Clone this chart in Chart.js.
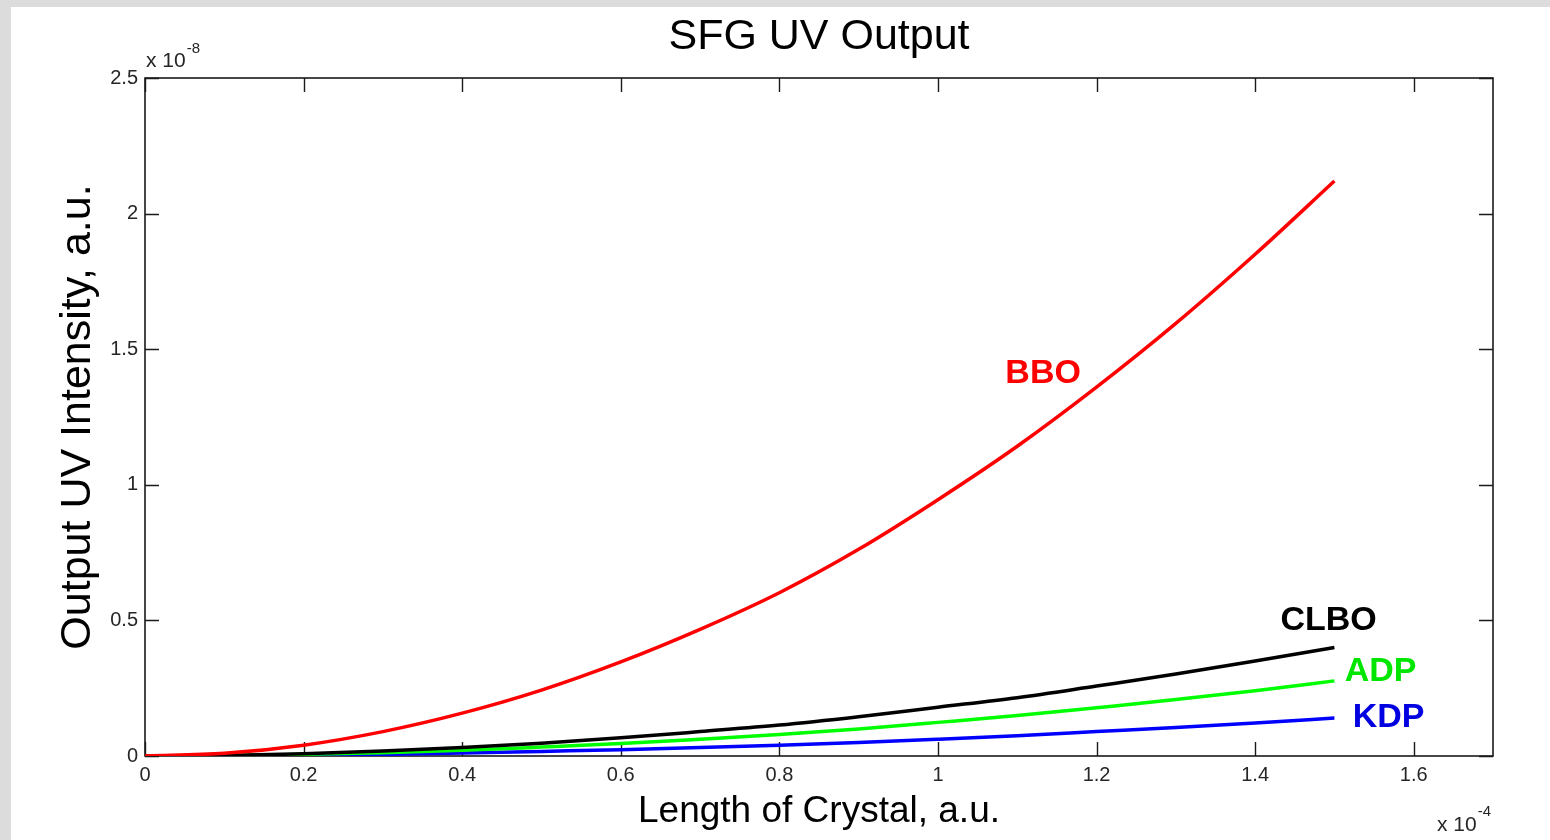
<!DOCTYPE html>
<html><head><meta charset="utf-8">
<script src="https://cdn.jsdelivr.net/npm/chart.js@4.4.1/dist/chart.umd.min.js"></script>
<style>html,body{margin:0;padding:0;background:#fff}#wrap{width:1550px;height:840px;position:relative}</style>
</head><body><div id="wrap"><canvas id="c"></canvas></div>
<script>
// crystal length (x 1e-4) and UV output (x 1e-8)
const lengthValues = [0, 0.1, 0.2, 0.3, 0.4, 0.5, 0.6, 0.7, 0.8, 0.9, 1.0, 1.1, 1.2, 1.3, 1.4, 1.5];
const bboValues  = [0, 0.010, 0.040, 0.090, 0.158, 0.243, 0.347, 0.467, 0.602, 0.762, 0.945, 1.142, 1.360, 1.595, 1.850, 2.120];
const clboValues = [0, 0.002, 0.008, 0.018, 0.031, 0.047, 0.067, 0.090, 0.114, 0.145, 0.180, 0.215, 0.258, 0.302, 0.350, 0.400];
const adpValues  = [0, 0.001, 0.006, 0.012, 0.021, 0.033, 0.046, 0.062, 0.079, 0.100, 0.124, 0.149, 0.178, 0.208, 0.241, 0.277];
const kdpValues  = [0, 0.001, 0.003, 0.006, 0.011, 0.017, 0.023, 0.031, 0.040, 0.050, 0.062, 0.075, 0.090, 0.105, 0.122, 0.140];
const xTickValues = [0, 0.2, 0.4, 0.6, 0.8, 1, 1.2, 1.4, 1.6];
const yTickValues = [0, 0.5, 1, 1.5, 2, 2.5];
const seriesNames = ['BBO', 'CLBO', 'ADP', 'KDP'];
// annotation anchors (data units) for the series names
const nameAtX = [1.085, 1.432, 1.513, 1.523];
const nameAtY = [1.41, 0.50, 0.31, 0.14];

const lineColors = ['#ff0000', '#000000', '#00ff00', '#0000ff'];
const nameColors = ['#ff0000', '#000000', '#00e600', '#0000e0'];
const seriesValues = [bboValues, clboValues, adpValues, kdpValues];

const datasets = seriesNames.map((n, i) => ({
  label: n,
  data: lengthValues.map((x, j) => ({x: x, y: seriesValues[i][j]})),
  borderColor: lineColors[i],
  backgroundColor: lineColors[i],
  borderWidth: 3.5,
  pointRadius: 0,
  cubicInterpolationMode: 'monotone',
  fill: false
}));

const FONT = 'Arial, "Liberation Sans", sans-serif';

const framePlugin = {
  id: 'frame',
  beforeDraw(chart) {
    const ctx = chart.ctx;
    ctx.save();
    ctx.fillStyle = '#dcdcdc';
    ctx.fillRect(0, 0, chart.width, chart.height);
    ctx.fillStyle = '#ffffff';
    ctx.fillRect(11, 7, chart.width - 11, chart.height - 7);
    ctx.restore();
  },
  beforeDatasetsDraw(chart) {
    const ctx = chart.ctx, a = chart.chartArea;
    const xs = chart.scales.x, ys = chart.scales.y;
    ctx.save();
    ctx.strokeStyle = '#1a1a1a';
    ctx.lineWidth = 1.6;
    ctx.strokeRect(a.left, a.top, a.right - a.left, a.bottom - a.top);
    ctx.lineWidth = 1.4;
    ctx.beginPath();
    const tl = 14;
    xs.ticks.forEach(t => {
      const px = Math.round(xs.getPixelForValue(t.value)) + 0.5;
      ctx.moveTo(px, a.bottom); ctx.lineTo(px, a.bottom - tl);
      ctx.moveTo(px, a.top); ctx.lineTo(px, a.top + tl);
    });
    ys.ticks.forEach(t => {
      const py = Math.round(ys.getPixelForValue(t.value)) + 0.5;
      ctx.moveTo(a.left, py); ctx.lineTo(a.left + tl, py);
      ctx.moveTo(a.right, py); ctx.lineTo(a.right - tl, py);
    });
    ctx.stroke();
    ctx.restore();
  },
  afterDatasetsDraw(chart) {
    const ctx = chart.ctx, a = chart.chartArea;
    const xs = chart.scales.x, ys = chart.scales.y;
    ctx.save();
    // series names
    ctx.font = 'bold 34px ' + FONT;
    ctx.textAlign = 'left';
    ctx.textBaseline = 'middle';
    seriesNames.forEach((n, i) => {
      ctx.fillStyle = nameColors[i];
      ctx.fillText(n, xs.getPixelForValue(nameAtX[i]), ys.getPixelForValue(nameAtY[i]));
    });
    // exponent labels
    ctx.fillStyle = '#262626';
    ctx.textBaseline = 'alphabetic';
    ctx.font = '21px ' + FONT;
    const base = 'x 10';
    const wb = ctx.measureText(base).width;
    ctx.fillText(base, a.left + 1, a.top - 11);
    ctx.font = '15px ' + FONT;
    ctx.fillText('-8', a.left + 2 + wb, a.top - 25);
    const ws = ctx.measureText('-4').width;
    ctx.font = '21px ' + FONT;
    const sx = a.right - 2 - ws - wb - 1;
    ctx.fillText(base, sx, a.bottom + 75);
    ctx.font = '15px ' + FONT;
    ctx.fillText('-4', sx + wb + 1, a.bottom + 60);
    ctx.restore();
  }
};

const fmt = v => String(+Number(v).toFixed(1));

new Chart(document.getElementById('c'), {
  type: 'line',
  data: { datasets: datasets },
  plugins: [framePlugin],
  options: {
    responsive: true,
    maintainAspectRatio: false,
    animation: false,
    layout: { padding: { left: 11, right: 57, top: 0, bottom: 0 } },
    plugins: {
      legend: { display: false },
      tooltip: { enabled: false },
      title: {
        display: true,
        text: 'SFG UV Output',
        fullSize: false,
        color: '#000',
        font: { family: FONT, size: 43, weight: 'normal' },
        padding: { top: 11.2, bottom: 15.2 }
      }
    },
    scales: {
      x: {
        type: 'linear',
        min: 0, max: 1.7,
        afterBuildTicks: s => { s.ticks = xTickValues.map(v => ({value: v})); },
        afterFit: s => { s.height = 84; },
        grid: { display: false, drawTicks: false },
        border: { display: false },
        ticks: { callback: fmt, color: '#262626', font: { family: FONT, size: 20 }, padding: 7, maxRotation: 0, autoSkip: false },
        title: { display: true, text: 'Length of Crystal, a.u.', color: '#000', font: { family: FONT, size: 37 }, padding: { top: 0, bottom: 5.8 } }
      },
      y: {
        type: 'linear',
        min: 0, max: 2.5,
        afterBuildTicks: s => { s.ticks = yTickValues.map(v => ({value: v})); },
        afterFit: s => { s.width = 134; },
        grid: { display: false, drawTicks: false },
        border: { display: false },
        ticks: { callback: fmt, color: '#262626', font: { family: FONT, size: 20 }, padding: 7, autoSkip: false },
        title: { display: true, text: 'Output UV Intensity, a.u.', color: '#000', font: { family: FONT, size: 43 }, padding: { top: 41.8, bottom: 0 } }
      }
    }
  }
});
</script>
</body></html>
